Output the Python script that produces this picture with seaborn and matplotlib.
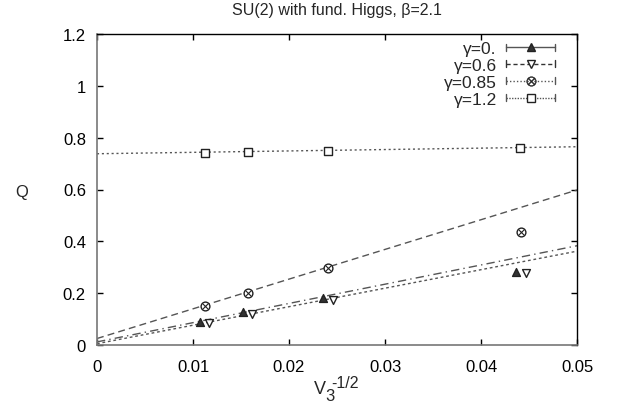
import matplotlib
matplotlib.use("Agg")
import matplotlib.pyplot as plt
import seaborn as sns
from matplotlib.lines import Line2D
from matplotlib.legend_handler import HandlerLine2D

# ---- data ----
x_g0 = [0.0107, 0.0152, 0.0235, 0.0436]
q_g0 = [0.090, 0.126, 0.181, 0.280]
x_g06 = [0.0117, 0.0161, 0.02455, 0.0447]
q_g06 = [0.085, 0.120, 0.175, 0.278]
x_g085 = [0.0112, 0.0157, 0.0241, 0.0442]
q_g085 = [0.152, 0.200, 0.297, 0.435]
x_g12 = [0.0112, 0.0157, 0.0241, 0.0441]
q_g12 = [0.741, 0.743, 0.748, 0.760]

fit_x = [0.0, 0.05]
fit_g0 = [0.012, 0.383]
fit_g06 = [0.005, 0.362]
fit_g085 = [0.025, 0.598]
fit_g12 = [0.738, 0.765]

labels = ["γ=0.", "γ=0.6", "γ=0.85", "γ=1.2"]
x_ticks = [0, 0.01, 0.02, 0.03, 0.04, 0.05]
x_ticklabels = ["0", "0.01", "0.02", "0.03", "0.04", "0.05"]
y_ticks = [0, 0.2, 0.4, 0.6, 0.8, 1.0, 1.2]
y_ticklabels = ["0", "0.2", "0.4", "0.6", "0.8", "1", "1.2"]

sns.set_theme(style="white")
plt.rcParams["font.family"] = ["Liberation Sans", "DejaVu Sans"]
plt.rcParams["mathtext.default"] = "regular"

fig = plt.figure(figsize=(6.27, 4.14), dpi=100)
W, H = 627, 414
L, R, T, B = 97, 577, 35, 346
ax = fig.add_axes([L / W, 1 - B / H, (R - L) / W, (B - T) / H])

lc = "#555555"
# fit lines
sns.lineplot(x=fit_x, y=fit_g0, ax=ax, color=lc, lw=1, linestyle=(0, (6, 3, 1, 3)))
sns.lineplot(x=fit_x, y=fit_g06, ax=ax, color=lc, lw=1, linestyle=(0, (2, 2)))
sns.lineplot(x=fit_x, y=fit_g085, ax=ax, color=lc, lw=1, linestyle=(0, (5, 3)))
sns.lineplot(x=fit_x, y=fit_g12, ax=ax, color=lc, lw=1, linestyle=(0, (1.5, 2)))

mc = "#222222"
sns.scatterplot(x=x_g0, y=q_g0, ax=ax, marker="^", s=32, color="#333333",
                edgecolor=mc, linewidth=1, zorder=5)
sns.scatterplot(x=x_g06, y=q_g06, ax=ax, marker="v", s=32, facecolor="white",
                edgecolor=mc, linewidth=1, zorder=5)
sns.scatterplot(x=x_g085, y=q_g085, ax=ax, marker="o", s=40, facecolor="white",
                edgecolor=mc, linewidth=1, zorder=5)
sns.scatterplot(x=x_g085, y=q_g085, ax=ax, marker="x", s=14, color=mc,
                linewidth=0.8, zorder=6)
sns.scatterplot(x=x_g12, y=q_g12, ax=ax, marker="s", s=38, facecolor="white",
                edgecolor=mc, linewidth=1, zorder=5)

ax.set_xlim(0, 0.05)
ax.set_ylim(0, 1.2)
ax.set_xticks(x_ticks)
ax.set_xticklabels(x_ticklabels)
ax.set_yticks(y_ticks)
ax.set_yticklabels(y_ticklabels)
ax.tick_params(axis="both", direction="in", length=4, width=1, color="black",
               labelsize=12, labelcolor="black", top=True, right=True,
               bottom=True, left=True)
ax.tick_params(axis="x", pad=10)
ax.tick_params(axis="y", pad=8)
for side in ["top", "right"]:
    ax.spines[side].set_color("black")
    ax.spines[side].set_linewidth(1)
for side in ["left", "bottom"]:
    ax.spines[side].set_color("#777777")
    ax.spines[side].set_linewidth(1.2)
ax.set_xlabel("")
ax.set_ylabel("")

fig.text(337 / W, 1 - 10 / H, "SU(2) with fund. Higgs, β=2.1", ha="center",
         va="center", fontsize=11.5)
# x label: V_3^{-1/2}
fig.text(320 / W, 1 - 390 / H, "V", ha="center", va="center", fontsize=13)
fig.text(330 / W, 1 - 397 / H, "3", ha="center", va="center", fontsize=12)
fig.text(345 / W, 1 - 384 / H, "-1/2", ha="center", va="center", fontsize=11.5)
fig.text(22 / W, 1 - 193 / H, "Q", ha="center", va="center", fontsize=12)


class CapHandler(HandlerLine2D):
    def create_artists(self, legend, orig_handle, xdescent, ydescent, width,
                       height, fontsize, trans):
        arts = super().create_artists(legend, orig_handle, xdescent, ydescent,
                                      width, height, fontsize, trans)
        y0 = height / 2 - ydescent
        h = 2.5
        for xx in (-xdescent, -xdescent + width):
            cap = Line2D([xx, xx], [y0 - h, y0 + h], color=orig_handle.get_color(),
                         lw=1, transform=trans)
            arts.append(cap)
        return arts


handles = [
    Line2D([], [], color="#555555", lw=1, linestyle="-", marker="^", ms=6,
           markerfacecolor="#333333", markeredgecolor=mc),
    Line2D([], [], color="#333333", lw=1, linestyle=(0, (3, 2)), marker="v", ms=6,
           markerfacecolor="white", markeredgecolor=mc),
    Line2D([], [], color="#555555", lw=1, linestyle=(0, (1, 1.5)), marker="$\\otimes$", ms=7,
           markerfacecolor=mc, markeredgecolor=mc, markeredgewidth=0.3),
    Line2D([], [], color="#555555", lw=1, linestyle=(0, (1, 1)), marker="s", ms=6,
           markerfacecolor="white", markeredgecolor=mc),
]
leg = ax.legend(handles, labels, loc="upper right",
                bbox_to_anchor=(1 - 22 / 480, 1 - 7 / 311),
                frameon=False, fontsize=12.5, markerfirst=False, numpoints=1,
                handlelength=2.8, labelspacing=0.1, handletextpad=0.55,
                borderaxespad=0, borderpad=0,
                handler_map={Line2D: CapHandler()})

fig.savefig("out.png", dpi=100)
